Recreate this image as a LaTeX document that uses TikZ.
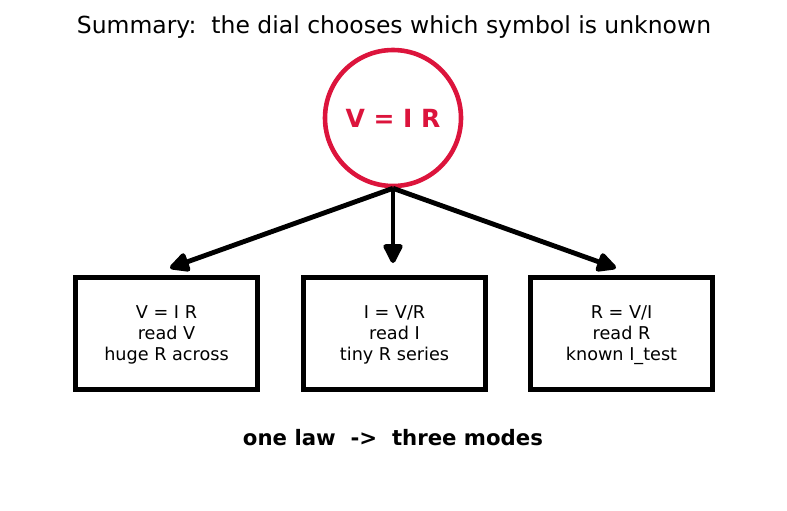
\documentclass[tikz,border=0pt]{standalone}
\usepackage{fontspec}
\setmainfont{DejaVu Sans}
\usetikzlibrary{arrows.meta}
\definecolor{crim}{RGB}{220,20,60}
\newcommand{\pxu}{*0.72pt}
\tikzset{
  modebox/.style={draw=black, line width=3.5pt, minimum width=182\pxu, minimum height=112\pxu, align=center, font=\fontsize{12.7}{15.1}\selectfont, inner sep=0pt, text depth=-2pt},
  law/.style={circle, draw=crim, line width=3.3pt, minimum size=136\pxu, text=crim, font=\fontsize{18}{21}\selectfont\bfseries, inner sep=0pt},
  link/.style={line width=3.5pt, -{Triangle[length=16pt,width=15pt,round]}},
}
\begin{document}
\begin{tikzpicture}[x=0.72pt,y=-0.72pt]
\useasboundingbox (0,0) rectangle (787,510);
\node[font=\fontsize{16.9}{20}\selectfont] (title) at (394,27) {Summary:\ \ the dial chooses which symbol is unknown};
\node[law] (c) at (393,118) {V = I R};
\node[modebox] (b1) at (166.5,333.5) {V = I R\\read V\\huge R across};
\node[modebox] (b2) at (394.5,333.5) {I = V/R\\read I\\tiny R series};
\node[modebox] (b3) at (621.5,333.5) {R = V/I\\read R\\known I\_test};
\coordinate (t1) at (170,268);
\coordinate (t2) at (393,263);
\coordinate (t3) at (616,268);
\draw[link] (c.south) -- (t1);
\draw[link] (c.south) -- (t2);
\draw[link] (c.south) -- (t3);
\node[font=\fontsize{15.3}{18}\selectfont\bfseries] (foot) at (393,438) {one law\ \ ->\ \ three modes};
\end{tikzpicture}
\end{document}
